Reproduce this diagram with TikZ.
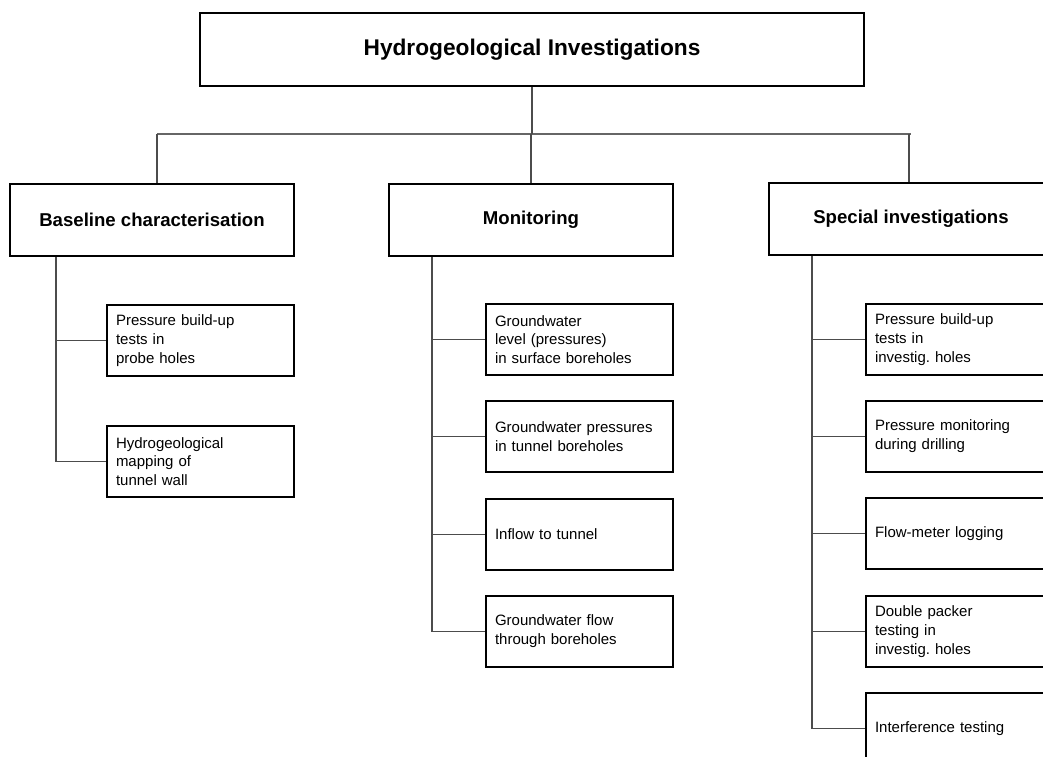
\documentclass[tikz,border=0pt]{standalone}
\usepackage{fontspec}
\setmainfont{Liberation Sans}
\usetikzlibrary{calc}
\frenchspacing
\begin{document}
\begin{tikzpicture}[x=1pt,y=-1pt,
  box/.style={draw=black, line width=2pt, fill=white, inner sep=0pt},
  titlebox/.style={box, minimum width=664pt, minimum height=73pt,
    font=\fontsize{22.7}{26}\selectfont\bfseries, anchor=north west},
  headbox/.style={box, minimum width=284pt, minimum height=72pt,
    font=\fontsize{18.6}{22}\selectfont\bfseries, anchor=north west},
  itembox/.style={box, minimum width=187pt, minimum height=71pt,
    text width=169pt, inner xsep=9pt, align=left,
    font=\fontsize{15}{18.8}\selectfont, anchor=north west},
  bar/.style={draw=black!60, line width=1.8pt},
  link/.style={draw=black!70, line width=1.4pt}]
\useasboundingbox (0,0) rectangle (1043,756);
\clip (0,0) rectangle (1043,756);

% top of the hierarchy
\node[titlebox] (top) at (199,12) {Hydrogeological Investigations};

% three branches
\node[headbox] (base) at (9,183)   {Baseline characterisation};
\node[headbox] (mon)  at (388,183) {Monitoring};
\node[headbox] (spec) at (768,182) {Special investigations};

% baseline characterisation items
\node[itembox] (b1) at (106,304) {Pressure build-up\\tests in\\probe holes};
\node[itembox] (b2) at (106,425) {Hydrogeological\\mapping of\\tunnel wall};

% monitoring items
\node[itembox] (m1) at (485,303) {Groundwater\\level (pressures)\\in surface boreholes};
\node[itembox] (m2) at (485,400) {Groundwater pressures\\in tunnel boreholes};
\node[itembox] (m3) at (485,498) {Inflow to tunnel};
\node[itembox] (m4) at (485,595) {Groundwater flow\\through boreholes};

% special investigation items
\node[itembox] (s1) at (865,303) {Pressure build-up\\tests in\\investig. holes};
\node[itembox] (s2) at (865,400) {Pressure monitoring\\during drilling};
\node[itembox] (s3) at (865,497) {Flow-meter logging};
\node[itembox] (s4) at (865,595) {Double packer\\testing in\\investig. holes};
\node[itembox] (s5) at (865,692) {Interference testing};

% horizontal distribution bar and stems
\coordinate (barL) at (157,134);
\coordinate (barR) at (911,134);
\draw[bar] (barL) -- (barR);
\draw[link] (top.south) -- (top.south |- barL);
\draw[link] (barL) -- (barL |- base.north);
\draw[link] (mon.north) -- (mon.north |- barL);
\draw[link] ($(barR)+(-2,0)$) -- ($(barR |- spec.north)+(-2,0)$);

% spines down the left side of each branch
\coordinate (bsp) at ($(base.south west)+(47,0)$);
\coordinate (msp) at ($(mon.south west)+(44,0)$);
\coordinate (ssp) at ($(spec.south west)+(44,0)$);

\draw[link] (bsp) -- (bsp |- b2.west);
\foreach \n in {b1,b2} \draw[link] (bsp |- \n.west) -- (\n.west);

\draw[link] (msp) -- (msp |- m4.west);
\foreach \n in {m1,m2,m3,m4} \draw[link] (msp |- \n.west) -- (\n.west);

\draw[link] (ssp) -- (ssp |- s5.west);
\foreach \n in {s1,s2,s3,s4,s5} \draw[link] (ssp |- \n.west) -- (\n.west);
\end{tikzpicture}
\end{document}
